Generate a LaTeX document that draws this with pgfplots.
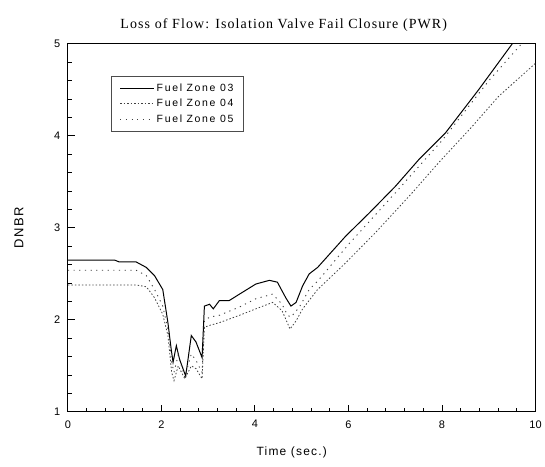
\documentclass[border=0pt]{standalone}
\usepackage{fontspec}
\setmainfont{Liberation Sans}
\newfontfamily\titlefont[LetterSpace=8]{Liberation Serif}
\newfontfamily\labfont[LetterSpace=10]{Liberation Sans}
\newfontfamily\legfont[LetterSpace=16]{Liberation Sans}
\usepackage{pgfplots}
\pgfplotsset{compat=1.18}
\begin{document}
\begin{tikzpicture}
\begin{axis}[
  scale only axis, width=469pt, height=369pt,
  xmin=0, xmax=10, ymin=1, ymax=5,
  xtick={0,2,4,6,8,10}, ytick={1,2,3,4,5},
  xticklabels={0,2,4,6,8,10}, yticklabels={1,2,3,4,5},
  xtick pos=bottom, ytick pos=left,
  major tick length=7pt,
  every tick/.style={black, line width=1pt},
  axis line style={line width=1pt},
  clip=false,
  ticklabel style={font=\fontsize{11}{13}\selectfont},
  xticklabel style={yshift=-5pt},
  yticklabel style={xshift=-4pt},
  xlabel={\labfont Time (sec.)}, xlabel style={font=\fontsize{12}{14}\selectfont, yshift=-12pt, xshift=-10pt},
  ylabel={\labfont DNBR}, ylabel style={font=\fontsize{13}{15}\selectfont, yshift=24pt},
  title={\titlefont Loss of Flow: Isolation Valve Fail Closure (PWR)},
  title style={font=\fontsize{14}{16}\selectfont, yshift=3pt, xshift=-18pt},
  legend style={at={(0.093,0.913)}, anchor=north west, draw=black!70, line width=0.9pt,
    font=\legfont\fontsize{10.5}{15}\selectfont, inner xsep=8pt, inner ysep=6pt, row sep=2pt},
  legend cell align=left,
  legend image code/.code={\draw[#1] (0cm,0cm) -- (1.2cm,0cm);},
  legend image post style={line width=0.9pt},
]
\addplot[black, line width=1pt] coordinates {
(0,2.65) (1.0,2.65) (1.1,2.63) (1.46,2.63) (1.68,2.57) (1.855,2.48) (2.03,2.33)
(2.14,1.97) (2.21,1.68) (2.25,1.54) (2.32,1.72) (2.39,1.57) (2.52,1.39)
(2.64,1.83) (2.74,1.76) (2.87,1.59) (2.92,2.15) (3.03,2.17) (3.11,2.12)
(3.24,2.21) (3.45,2.21) (3.67,2.28) (4.02,2.39) (4.31,2.43) (4.48,2.41)
(4.66,2.24) (4.77,2.15) (4.88,2.19) (5.02,2.37) (5.16,2.50) (5.34,2.57)
(5.94,2.91) (6.44,3.16) (7.0,3.45) (7.5,3.74) (8.07,4.03) (8.78,4.50) (9.5,5.0)
};
\addlegendentry{Fuel Zone 03}
\addplot[black!75, line width=0.8pt, dash pattern=on 1.5pt off 2pt] coordinates {
(0,2.38) (1.46,2.38) (1.68,2.36) (1.855,2.24) (2.03,2.06) (2.14,1.83)
(2.22,1.43) (2.27,1.34) (2.36,1.5) (2.5,1.36) (2.64,1.5) (2.74,1.47)
(2.87,1.36) (2.92,1.92) (3.03,1.94) (3.24,1.97) (3.67,2.05) (4.02,2.12)
(4.38,2.19) (4.58,2.1) (4.7,1.96) (4.75,1.9) (4.88,1.99) (5.02,2.12)
(5.34,2.33) (5.9,2.6) (6.58,2.95) (7.36,3.38) (7.93,3.71) (8.64,4.1)
(9.21,4.43) (10,4.79)
};
\addlegendentry{Fuel Zone 04}
\addplot[black!75, line width=0.9pt, dash pattern=on 1.2pt off 4.5pt] coordinates {
(0,2.54) (1.46,2.54) (1.68,2.48) (1.855,2.33) (2.03,2.15) (2.14,1.9)
(2.22,1.54) (2.27,1.43) (2.36,1.62) (2.5,1.38) (2.64,1.63) (2.74,1.56)
(2.87,1.43) (2.92,1.99) (3.03,2.03) (3.24,2.05) (3.67,2.14) (4.02,2.23)
(4.38,2.28) (4.58,2.17) (4.7,2.05) (4.77,2.03) (4.95,2.14) (5.16,2.33)
(5.34,2.42) (6.0,2.82) (7.0,3.38) (8.0,3.95) (9.0,4.6) (9.7,5.0)
};
\addlegendentry{Fuel Zone 05}
% tick marks along the bottom and left axes
\pgfplotsinvokeforeach{0,2,4,6,8,10}{\draw[black, line width=1pt] (axis cs:#1,1) -- ++(0pt,7pt);}
\pgfplotsinvokeforeach{0.4,0.8,1.2,1.6,2.4,2.8,3.2,3.6,4.4,4.8,5.2,5.6,6.4,6.8,7.2,7.6,8.4,8.8,9.2,9.6}{\draw[black, line width=1pt] (axis cs:#1,1) -- ++(0pt,4pt);}
\pgfplotsinvokeforeach{1,2,3,4,5}{\draw[black, line width=1pt] (axis cs:0,#1) -- ++(7pt,0pt);}
\pgfplotsinvokeforeach{1.2,1.4,1.6,1.8,2.2,2.4,2.6,2.8,3.2,3.4,3.6,3.8,4.2,4.4,4.6,4.8}{\draw[black, line width=1pt] (axis cs:0,#1) -- ++(4pt,0pt);}
\end{axis}
\path[use as bounding box] (-68pt,-55pt) rectangle (477pt,413pt);
\end{tikzpicture}
\end{document}
